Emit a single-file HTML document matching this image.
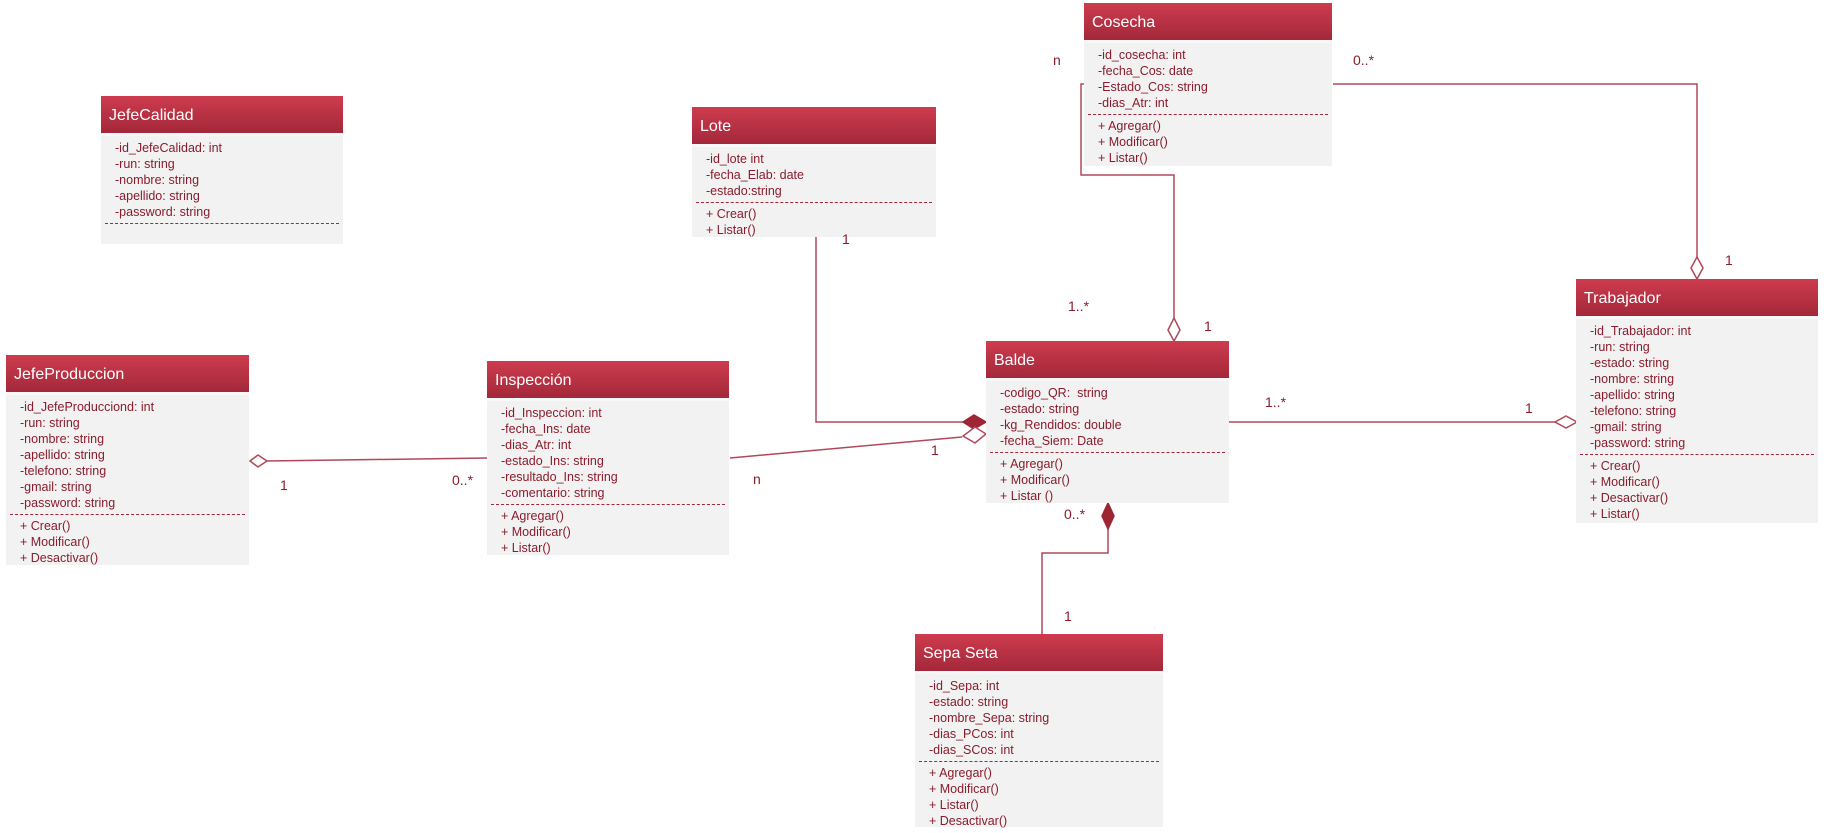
<!DOCTYPE html>
<html><head><meta charset="utf-8"><style>
body{margin:0;width:1824px;height:833px;background:#fff;position:relative;overflow:hidden;font-family:"Liberation Sans Narrow","Liberation Sans",sans-serif;}
.c{position:absolute;background:#f2f2f2;}
.h{height:40px;background:linear-gradient(#cd3c4e,#a3283a);color:#fff;font-size:16px;line-height:40px;padding-left:8px;border-bottom:3px solid #f8f8f8;box-sizing:border-box;}
.b{padding:4px 0 0 14px;font-size:12.5px;color:#8a1c2c;line-height:16px;}
.d{border-top:1.5px dashed #a3283a;margin:3px 4px 3px -10px;}
.l{position:absolute;font-size:14px;color:#8a1c2c;font-family:"Liberation Sans",sans-serif;}
svg{position:absolute;left:0;top:0;}
</style></head><body>
<svg width="1824" height="833">
<g stroke="#b0485a" stroke-width="1.5" fill="none">
<polyline points="816,236 816,422 963,422"/>
<polygon points="963,422 974,415 986,422 974,429" fill="#9e2534" stroke="#9e2534"/>
<line x1="730" y1="458" x2="962" y2="437"/>
<polygon points="986,434 975,427 963,436 975,443" fill="#fff"/>
<line x1="267" y1="461" x2="487" y2="458"/>
<polygon points="250,461 258,455 267,461 258,467" fill="#fff"/>
<polyline points="1084,84 1081,84 1081,175 1174,175 1174,318"/>
<polygon points="1174,318 1180,330 1174,341 1168,330" fill="#fff"/>
<polyline points="1333,84 1697,84 1697,257"/>
<polygon points="1697,257 1703,268 1697,279 1691,268" fill="#fff"/>
<line x1="1229" y1="422" x2="1555" y2="422"/>
<polygon points="1555,422 1566,416 1577,422 1566,428" fill="#fff"/>
<polyline points="1108,529 1108,553 1042,553 1042,634"/>
<polygon points="1108,503 1114,516 1108,529 1102,516" fill="#9e2534" stroke="#9e2534"/>
</g></svg>

<div class="c" style="left:101px;top:96px;width:242px;height:148px"><div class="h">JefeCalidad</div><div class="b">-id_JefeCalidad: int<br>-run: string<br>-nombre: string<br>-apellido: string<br>-password: string<div class="d"></div></div></div>

<div class="c" style="left:692px;top:107px;width:244px;height:130px"><div class="h">Lote</div><div class="b">-id_lote int<br>-fecha_Elab: date<br>-estado:string<div class="d"></div>+ Crear()<br>+ Listar()</div></div>

<div class="c" style="left:1084px;top:3px;width:248px;height:163px"><div class="h">Cosecha</div><div class="b">-id_cosecha: int<br>-fecha_Cos: date<br>-Estado_Cos: string<br>-dias_Atr: int<div class="d"></div>+ Agregar()<br>+ Modificar()<br>+ Listar()</div></div>

<div class="c" style="left:6px;top:355px;width:243px;height:210px"><div class="h">JefeProduccion</div><div class="b">-id_JefeProducciond: int<br>-run: string<br>-nombre: string<br>-apellido: string<br>-telefono: string<br>-gmail: string<br>-password: string<div class="d"></div>+ Crear()<br>+ Modificar()<br>+ Desactivar()</div></div>

<div class="c" style="left:487px;top:361px;width:242px;height:194px"><div class="h">Inspección</div><div class="b">-id_Inspeccion: int<br>-fecha_Ins: date<br>-dias_Atr: int<br>-estado_Ins: string<br>-resultado_Ins: string<br>-comentario: string<div class="d"></div>+ Agregar()<br>+ Modificar()<br>+ Listar()</div></div>

<div class="c" style="left:986px;top:341px;width:243px;height:162px"><div class="h">Balde</div><div class="b">-codigo_QR:&nbsp; string<br>-estado: string<br>-kg_Rendidos: double<br>-fecha_Siem: Date<div class="d"></div>+ Agregar()<br>+ Modificar()<br>+ Listar ()</div></div>

<div class="c" style="left:1576px;top:279px;width:242px;height:244px"><div class="h">Trabajador</div><div class="b">-id_Trabajador: int<br>-run: string<br>-estado: string<br>-nombre: string<br>-apellido: string<br>-telefono: string<br>-gmail: string<br>-password: string<div class="d"></div>+ Crear()<br>+ Modificar()<br>+ Desactivar()<br>+ Listar()</div></div>

<div class="c" style="left:915px;top:634px;width:248px;height:193px"><div class="h">Sepa Seta</div><div class="b">-id_Sepa: int<br>-estado: string<br>-nombre_Sepa: string<br>-dias_PCos: int<br>-dias_SCos: int<div class="d"></div>+ Agregar()<br>+ Modificar()<br>+ Listar()<br>+ Desactivar()</div></div>

<div class="l" style="left:1053px;top:52px">n</div>
<div class="l" style="left:1353px;top:52px">0..*</div>
<div class="l" style="left:1725px;top:252px">1</div>
<div class="l" style="left:1068px;top:298px">1..*</div>
<div class="l" style="left:1204px;top:318px">1</div>
<div class="l" style="left:842px;top:231px">1</div>
<div class="l" style="left:1265px;top:394px">1..*</div>
<div class="l" style="left:1525px;top:400px">1</div>
<div class="l" style="left:931px;top:442px">1</div>
<div class="l" style="left:753px;top:471px">n</div>
<div class="l" style="left:280px;top:477px">1</div>
<div class="l" style="left:452px;top:472px">0..*</div>
<div class="l" style="left:1064px;top:506px">0..*</div>
<div class="l" style="left:1064px;top:608px">1</div>
</body></html>
